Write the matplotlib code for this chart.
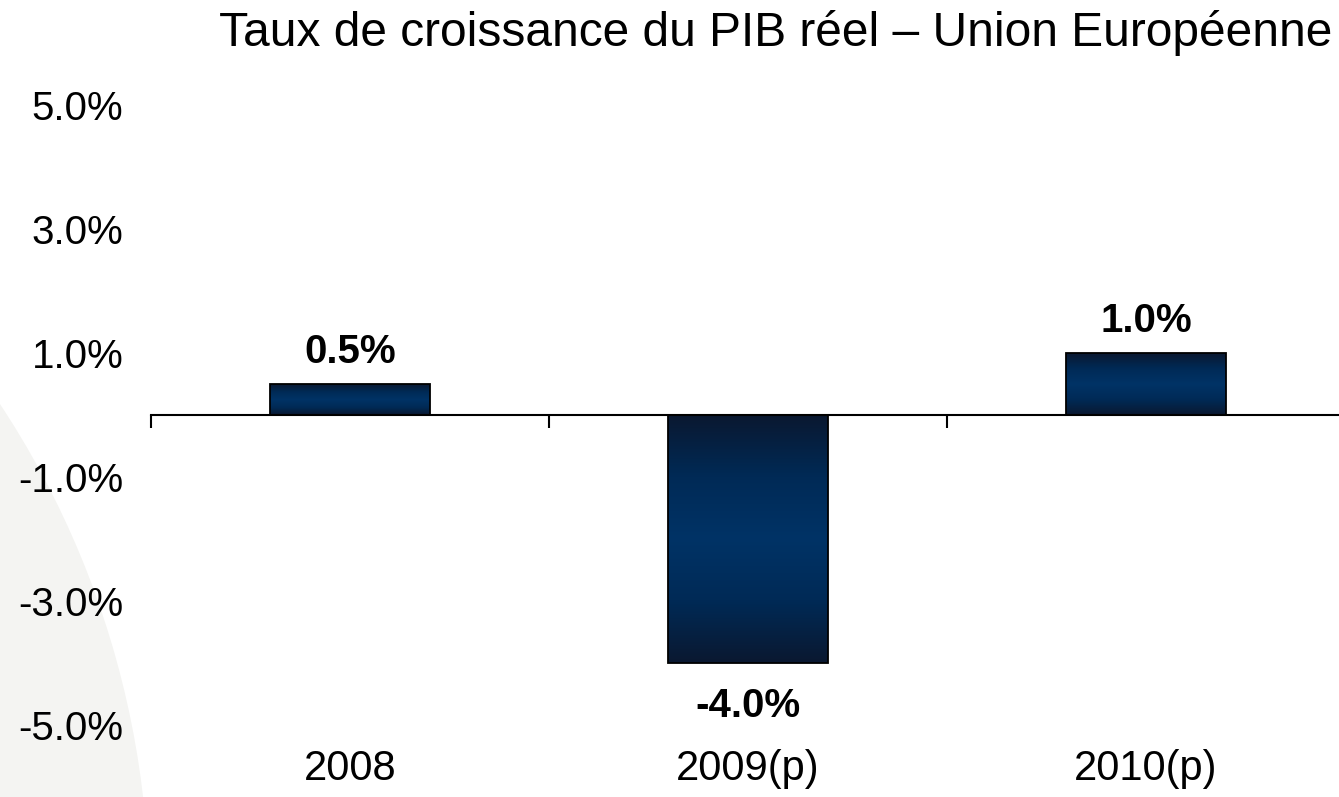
import numpy as np
import matplotlib
matplotlib.use("Agg")
import matplotlib.pyplot as plt
from matplotlib.patches import Circle
from matplotlib.colors import LinearSegmentedColormap

categories = ["2008", "2009(p)", "2010(p)"]
values = [0.5, -4.0, 1.0]
yticks = [5.0, 3.0, 1.0, -1.0, -3.0, -5.0]
title = "Taux de croissance du PIB réel – Union Européenne"

plt.rcParams['font.family'] = ['Liberation Sans', 'DejaVu Sans']

W, H = 1339, 797
fig = plt.figure(figsize=(W / 100, H / 100), dpi=100)
fig.patch.set_facecolor("white")

# faint background disc on the left
disc = Circle((-7.51, -1.03), 9.0, transform=fig.dpi_scale_trans,
              facecolor="#f4f4f2", edgecolor="none", zorder=-10)
fig.patches.append(disc)

ax = fig.add_axes([151 / W, (H - 725) / H, (1345 - 151) / W, 620 / H])
ax.patch.set_alpha(0)

x = np.arange(len(categories))
bars = ax.bar(x, values, width=0.4, color="#003366", edgecolor="black",
              linewidth=1.3, zorder=2)

cmap = LinearSegmentedColormap.from_list(
    "navy", ["#0a1830", "#002a56", "#003366", "#002a56", "#0a1830"])
grad = np.linspace(0, 1, 256).reshape(-1, 1)
for b in bars:
    x0, y0 = b.get_x(), b.get_y()
    w, h = b.get_width(), b.get_height()
    im = ax.imshow(grad, cmap=cmap, aspect="auto",
                   extent=[x0, x0 + w, y0, y0 + h], zorder=2.5,
                   interpolation="bilinear")
    im.set_clip_path(b)
    b.set_facecolor("none")
    b.set_zorder(3)

for b, v in zip(bars, values):
    off = 23 if v >= 0 else -31
    ax.annotate(f"{v:.1f}%", (b.get_x() + b.get_width() / 2, v),
                xytext=(0, off), textcoords="offset points",
                ha="center", va="center", fontsize=29, fontweight="bold")

ax.set_xlim(-0.5, len(categories) - 0.5)
ax.set_ylim(-5, 5)

for s in ["left", "right", "top"]:
    ax.spines[s].set_visible(False)
ax.spines["bottom"].set_position(("data", 0))
ax.spines["bottom"].set_linewidth(1.5)
ax.set_xticks(np.arange(len(categories) + 1) - 0.5)
ax.set_xticklabels([])
ax.tick_params(axis="x", direction="out", length=9, width=1.5)

ax.set_yticks(yticks)
ax.set_yticklabels([f"{t:.1f}%" for t in yticks])
ax.tick_params(axis="y", length=0, pad=20, labelsize=29)

sec = ax.secondary_xaxis("bottom")
sec.set_xticks(x)
sec.set_xticklabels(categories)
sec.tick_params(length=0, pad=17, labelsize=30)
sec.spines["bottom"].set_visible(False)

fig.text(776 / W, 1 - 33 / H, title, ha="center", va="center", fontsize=34.5)

fig.savefig("out.png", dpi=100)
